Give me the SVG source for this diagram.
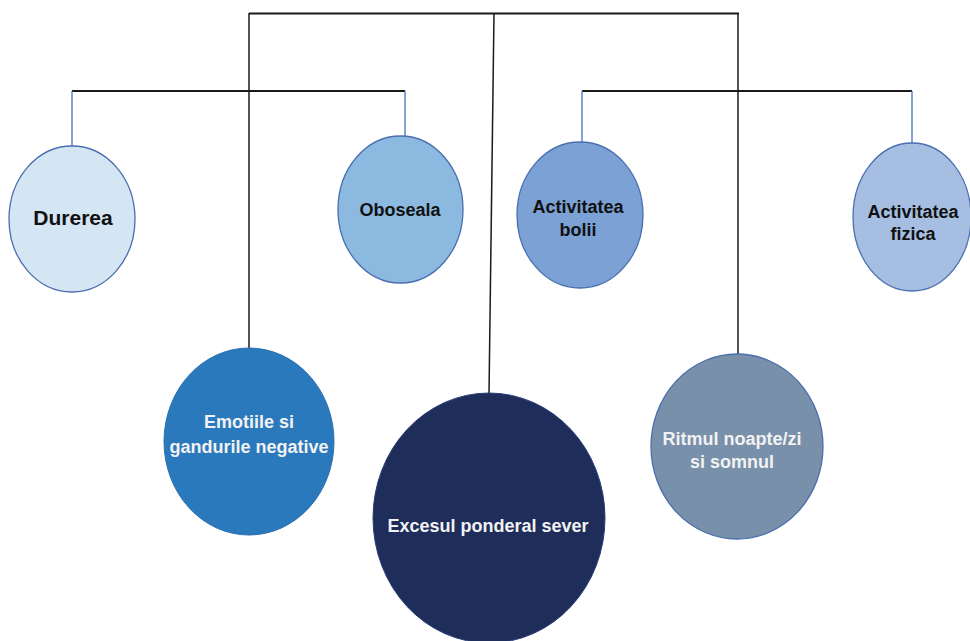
<svg xmlns="http://www.w3.org/2000/svg" width="970" height="641" viewBox="0 0 970 641">
<style>
.blk{stroke:#1a1a1a;stroke-width:1.5;fill:none}
.thk{stroke:#1a1a1a;stroke-width:2.2;fill:none}
.blu{stroke:#4472c4;stroke-width:1.3;fill:none}
.n{stroke:#4a6fae;stroke-width:1.3}
text{font-family:"Liberation Sans",Arial,sans-serif;font-weight:bold;font-size:18px;text-anchor:middle}
.d{fill:#111}
.w{fill:#f2f2f2}
</style>
<rect width="970" height="641" fill="#ffffff"/>
<g id="connectors">
<line class="thk" x1="249" y1="13.5" x2="739" y2="13.5"/>
<line class="blk" x1="249" y1="13" x2="249" y2="349"/>
<line class="blk" x1="494" y1="13" x2="489" y2="394"/>
<line class="blk" x1="738" y1="13" x2="738" y2="355"/>
<line class="thk" x1="72" y1="91" x2="405" y2="91"/>
<line class="thk" x1="582" y1="91" x2="912" y2="91"/>
<line class="blu" x1="72" y1="91" x2="72" y2="146"/>
<line class="blu" x1="405" y1="91" x2="405" y2="136"/>
<line class="blu" x1="582" y1="91" x2="582" y2="142"/>
<line class="blu" x1="912" y1="91" x2="912" y2="143"/>
</g>
<g id="durerea">
<ellipse class="n" cx="72" cy="219" rx="63" ry="73" fill="#d4e5f4"/>
<text class="d" x="73" y="225" style="font-size:21px">Durerea</text>
</g>
<g id="oboseala">
<ellipse class="n" cx="400.5" cy="209.5" rx="62.5" ry="73.5" fill="#8bb9e0"/>
<text class="d" x="400" y="216">Oboseala</text>
</g>
<g id="activitatea-bolii">
<ellipse class="n" cx="580" cy="215" rx="63" ry="73" fill="#7ba1d5"/>
<text class="d" x="578" y="213">Activitatea</text>
<text class="d" x="578" y="236">bolii</text>
</g>
<g id="activitatea-fizica">
<ellipse class="n" cx="912" cy="217" rx="59" ry="74" fill="#a5bee1"/>
<text class="d" x="913" y="218">Activitatea</text>
<text class="d" x="913" y="240">fizica</text>
</g>
<g id="emotiile">
<ellipse cx="249" cy="441.5" rx="85" ry="93.5" fill="#2b79bd" stroke="#2a6fb0" stroke-width="1"/>
<text class="w" x="249" y="428">Emotiile si</text>
<text class="w" x="249" y="453">gandurile negative</text>
</g>
<g id="excesul">
<ellipse cx="489" cy="518" rx="116" ry="125" fill="#1e2d5a" stroke="#2a3f78" stroke-width="1"/>
<text class="w" x="488" y="532">Excesul ponderal sever</text>
</g>
<g id="ritmul">
<ellipse cx="737" cy="446.5" rx="86" ry="92.5" fill="#7890aa" stroke="#4a6fae" stroke-width="1.3"/>
<text class="w" x="732" y="445">Ritmul noapte/zi</text>
<text class="w" x="732" y="468">si somnul</text>
</g>
</svg>
